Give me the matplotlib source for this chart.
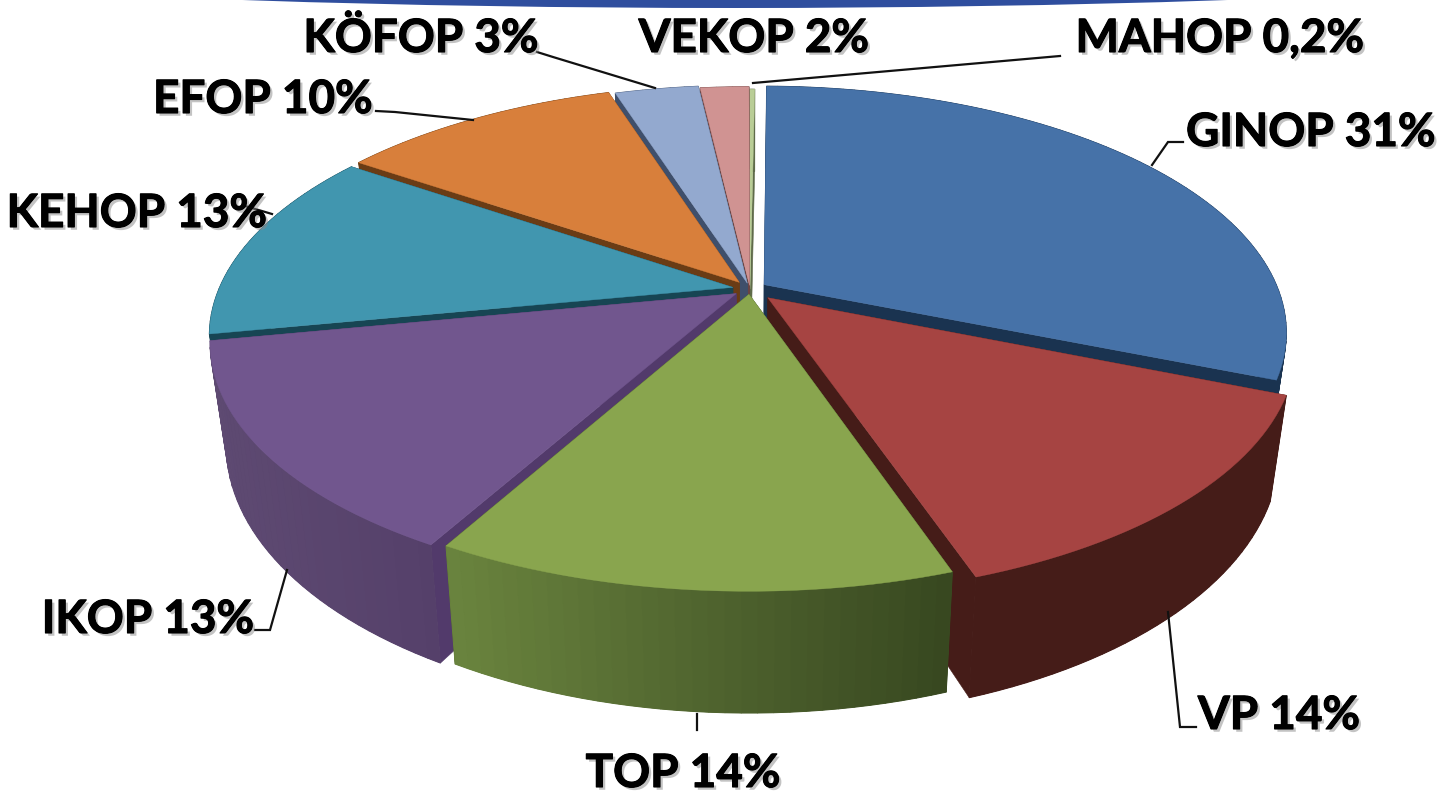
import numpy as np
import matplotlib
matplotlib.use("Agg")
import matplotlib.pyplot as plt
import matplotlib.colors as mcolors
import matplotlib.patheffects as pe
from matplotlib.patches import Polygon, Ellipse

#data (share of the pie, clockwise from 12 o'clock)
names = ["GINOP", "VP", "TOP", "IKOP", "KEHOP", "EFOP", "KÖFOP", "VEKOP", "MAHOP"]
values = [30.83, 13.6, 13.3, 13.8, 12.5, 10.5, 3.1, 1.8, 0.2]
value_labels = ["31%", "14%", "14%", "13%", "13%", "10%", "3%", "2%", "0,2%"]

#style of each slice
top_colors = ["#4672A8", "#A64442", "#89A54E", "#71568E", "#4196AF", "#D87F3B", "#93A9CF", "#D09392", "#B9CD96"]
cut_colors = ["#1A3350", "#451C18", "#3A4A20", "#523A6B", "#174553", "#6A3C15", "#3F4F6B", "#6B4443", "#5F6B4A"]
wall_left = ["#1A3350", "#451C18", "#6A843E", "#5E4A72", "#174553", "#6A3C15", "#3F4F6B", "#6B4443", "#5F6B4A"]
wall_right = ["#1A3350", "#451C18", "#374720", "#55406A", "#174553", "#6A3C15", "#3F4F6B", "#6B4443", "#5F6B4A"]
explode = [0.033, 0.05, 0.022, 0.033, 0.034, 0.035, 0.025, 0.015, 0.0]
draw_order = [8, 7, 6, 5, 0, 4, 3, 1, 2]
start_angle = 0.011

#label layout: centre x, baseline y
label_x = [1311, 1279, 683, 148, 137, 263, 421, 754, 1220]
label_y = [146, 729, 787, 633, 227, 113, 52, 52, 52]

#leader lines
leaders = [
    [(1152, 165), (1168, 142), (1183, 142)],
    [(1168, 612), (1180, 727), (1196, 727)],
    [(697, 714), (697, 730)],
    [(287, 570), (270, 630), (255, 630)],
    [(245, 206), (272, 214)],
    [(376, 111), (395, 112), (473, 120)],
    [(537, 52), (553, 57), (655, 88)],
    [(753, 83), (1060, 56)],
]

#projection of the pie
cx, cy = 750, 289
a, b = 514, 238
depth = 5.23
height = 98


def project(X, Y, Z=0.0):
    s = depth / (depth - Y)
    px = cx + a * X * s * (1 - 0.03 * Z)
    py = cy + b * Y * s + height * Z * s
    return np.column_stack([px, py])


def rim(theta, ox, oy):
    return ox + np.sin(theta), oy - np.cos(theta)


def draw_slice(ax, t1, t2, i):
    mid = (t1 + t2) / 2
    ox = explode[i] * np.sin(mid)
    oy = -explode[i] * np.cos(mid)
    n = max(4, int((t2 - t1) * 40))
    th = np.linspace(t1, t2, n)
    X, Y = rim(th, ox, oy)
    apex_x, apex_y = np.array([ox]), np.array([oy])

    # cut faces
    for k in [0, -1]:
        fx = np.array([ox, X[k], X[k], ox])
        fy = np.array([oy, Y[k], Y[k], oy])
        fz = np.array([0, 0, 1, 1])
        pts = np.vstack([project(fx[j:j+1], fy[j:j+1], fz[j]) for j in range(4)])
        ax.add_patch(Polygon(pts, closed=True, fc=cut_colors[i], ec=cut_colors[i], lw=0.4, zorder=2))

    # outer wall in strips, shaded from left to right
    c_left = np.array(mcolors.to_rgb(wall_left[i]))
    c_right = np.array(mcolors.to_rgb(wall_right[i]))
    up = project(X, Y, 0.0)
    down = project(X, Y, 1.0)
    xmin, xmax = up[:, 0].min(), up[:, 0].max()
    ax.add_patch(Polygon(np.vstack([up, down[::-1]]), closed=True, fc=(c_left + c_right) / 2, ec="none", zorder=2))
    for j in range(n - 1):
        f = ((up[j, 0] + up[j + 1, 0]) / 2 - xmin) / max(xmax - xmin, 1)
        col = c_left + (c_right - c_left) * f
        pts = np.vstack([up[j], up[j + 1], down[j + 1], down[j]])
        ax.add_patch(Polygon(pts, closed=True, fc=col, ec=col, lw=0.7, joinstyle="bevel", zorder=2))

    # top face
    pts = np.vstack([project(apex_x, apex_y, 0.0), up])
    ax.add_patch(Polygon(pts, closed=True, fc=top_colors[i], ec=top_colors[i], lw=0.3, zorder=2))


fig = plt.figure(figsize=(14.45, 7.93), dpi=100)
ax = fig.add_axes([0, 0, 1, 1])
ax.set_xlim(0, 1445)
ax.set_ylim(793, 0)
ax.axis("off")

#blue arc of the slide heading at the top edge
ax.add_patch(Ellipse((735, -92), 2526, 200, fc="#2F4E9E", ec="none", zorder=1))

edges = np.cumsum([0] + values) / np.sum(values) * 2 * np.pi + start_angle
for i in draw_order:
    draw_slice(ax, edges[i], edges[i + 1], i)

for line in leaders:
    xs, ys = zip(*line)
    ax.plot(xs, ys, color="#111111", lw=1.6, zorder=3, solid_joinstyle="miter")

shadow = [
    pe.withSimplePatchShadow(offset=(2, -2), shadow_rgbFace="#888888", alpha=0.5),
    pe.withStroke(linewidth=0.8, foreground="black"),
]
for i in range(len(names)):
    ax.text(label_x[i], label_y[i], names[i] + " " + value_labels[i], ha="center", va="baseline",
            family="Lato", fontweight="bold", fontsize=33, color="black", path_effects=shadow, zorder=4)

fig.savefig("out.png", dpi=100)
